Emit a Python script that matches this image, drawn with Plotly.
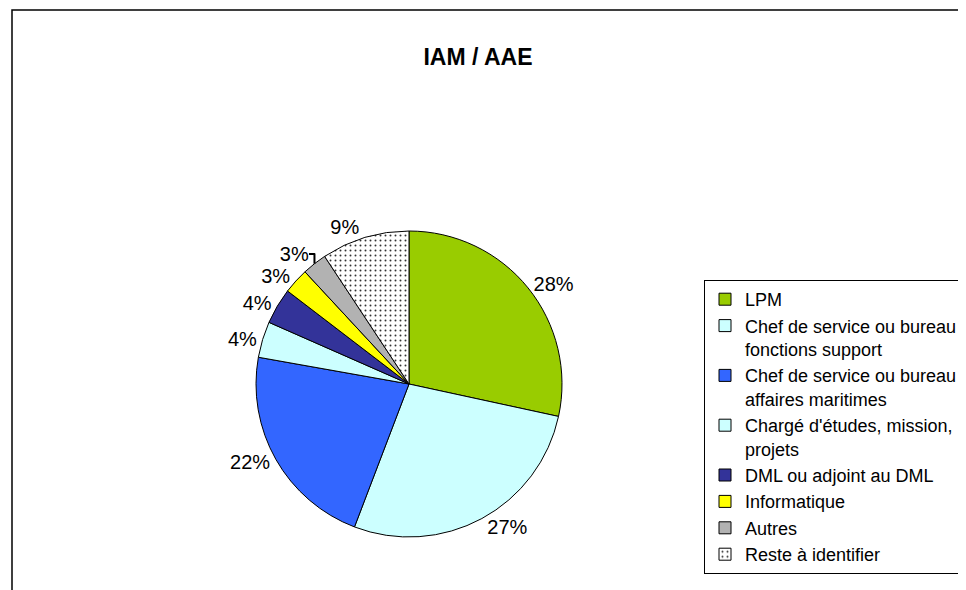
import plotly.graph_objects as go

# Part de chaque fonction (%)
labels = [
    "LPM",
    "Chef de service ou bureau<br>fonctions support",
    "Chef de service ou bureau<br>affaires maritimes",
    "Chargé d'études, mission,<br>projets",
    "DML ou adjoint au DML",
    "Informatique",
    "Autres",
    "Reste à identifier",
]
values = [28.4, 27.4, 22.0, 3.8, 3.8, 2.7, 2.6, 9.3]
colors = ["#99CC00", "#CCFFFF", "#3366FF", "#CCFFFF", "#333399", "#FFFF00", "#B2B2B2", "#FFFFFF"]
patterns = ["", "", "", "", "", "", "", "."]

# page body adds an 8px margin, so work in window pixels minus that offset
OFF = 8
W, H = 966 - OFF, 590 - OFF


def px(x):
    return (x - OFF) / W


def py(y):
    return 1 - (y - OFF) / H


# pie centre and radius (window pixels)
cx, cy, r = 409, 384, 153

fig = go.Figure()
fig.add_trace(go.Pie(
    labels=labels,
    values=values,
    sort=False,
    direction="clockwise",
    rotation=0,
    marker=dict(
        colors=colors,
        line=dict(color="black", width=1),
        pattern=dict(shape=patterns, fgcolor="#333333", bgcolor="white", size=5, solidity=0.12),
    ),
    texttemplate="%{percent:.0%}",
    textposition="outside",
    textfont=dict(size=20, color="black"),
    domain=dict(x=[px(cx - r), px(cx + r)], y=[py(cy + r), py(cy - r)]),
    hoverinfo="label+percent",
))

# chart frame
fig.add_shape(type="rect", xref="paper", yref="paper",
              x0=px(12), x1=1.02, y0=-0.02, y1=py(10),
              line=dict(color="black", width=1.5), fillcolor="rgba(0,0,0,0)", layer="below")

fig.update_layout(
    width=W, height=H,
    margin=dict(l=0, r=0, t=0, b=0),
    paper_bgcolor="white",
    font=dict(family="Liberation Sans, Arial, sans-serif", color="black"),
    title=dict(text="<b>IAM / AAE</b>", x=px(478), xanchor="center", y=py(57), yanchor="middle",
               font=dict(size=23)),
    legend=dict(x=px(704), y=py(280), xanchor="left", yanchor="top", valign="top",
                bordercolor="black", borderwidth=1, font=dict(size=18),
                itemwidth=30, bgcolor="white"),
)

fig.write_html("out.html")
